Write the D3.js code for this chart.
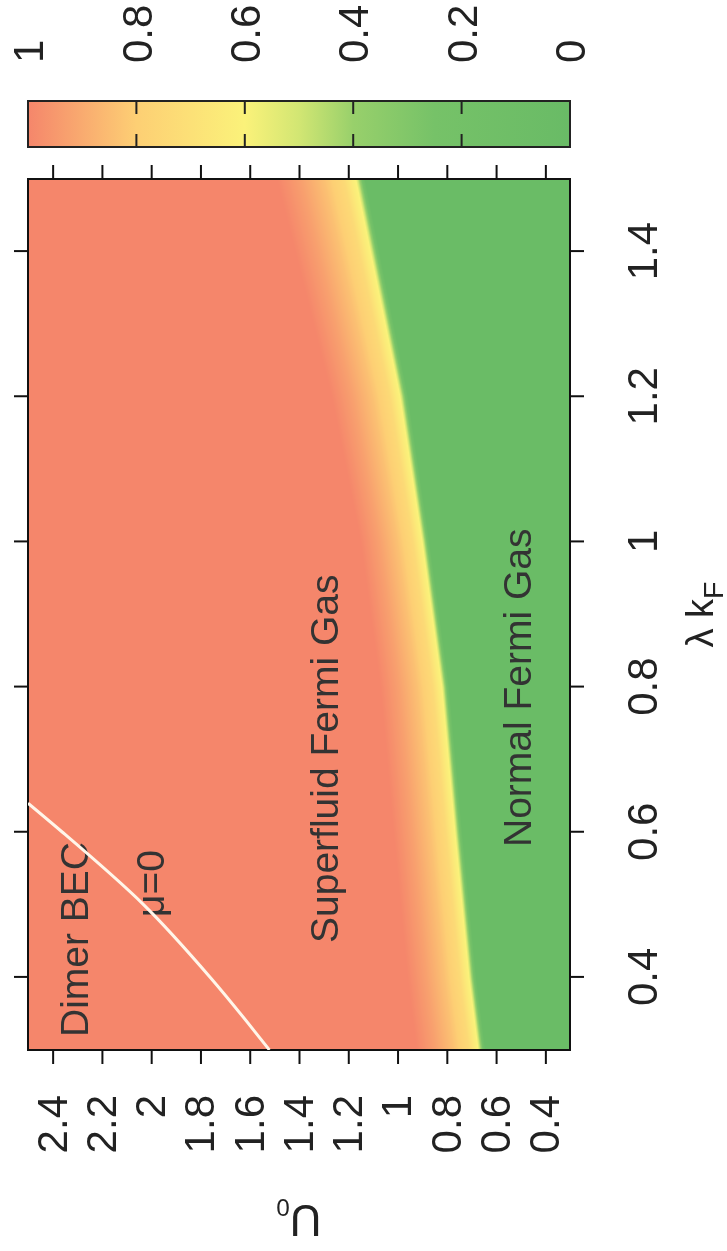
<!DOCTYPE html>
<html>
<head>
<meta charset="utf-8">
<script src="https://cdn.jsdelivr.net/npm/d3@7"></script>
<style>
  body { margin: 0; background: #fff; }
  #wrap { position: relative; width: 727px; height: 1251px; overflow: hidden; }
  #wrap canvas, #wrap svg { position: absolute; left: 0; top: 0; }
  text { font-family: "Liberation Sans", Arial, sans-serif; }
</style>
</head>
<body>
<div id="wrap"></div>
<script>
// tick values
const lambdaTicks = [0.4, 0.6, 0.8, 1, 1.2, 1.4];
const u0Ticks = [0.4, 0.6, 0.8, 1, 1.2, 1.4, 1.6, 1.8, 2, 2.2, 2.4];
const barTicks = [0, 0.2, 0.4, 0.6, 0.8, 1];

// superfluid / normal boundary (edge of the green region)
const boundaryLambda = [0.3, 0.4, 0.6, 0.8, 1.0, 1.2, 1.4, 1.5];
const boundaryU0 = [0.673, 0.71, 0.767, 0.82, 0.90, 0.99, 1.11, 1.17];

// how far (in U0) the yellow fades into red above the boundary
const fadeLambda = [0.3, 1.0, 1.5];
const fadeU0 = [0.25, 0.25, 0.32];

// value across the boundary, offset given in fade widths
const profileOffset = [-0.12, -0.05, 0, 0.05, 0.15, 0.4, 0.7, 1];
const profileValue = [0.02, 0.4, 0.6, 0.64, 0.74, 0.84, 0.93, 1];

// mu = 0 line
const muLambda = [0.3, 0.4, 0.5, 0.6, 0.64];
const muU0 = [1.52, 1.76, 2.03, 2.36, 2.5];

// colour map
const colorStops = [0, 0.25, 0.4, 0.5, 0.6, 0.8, 1];
const colorValues = ["#69bb66", "#76c268", "#98d06b", "#d2e673", "#fbf27a", "#fdcf74", "#f5866b"];

const W = 727, H = 1251;

// the figure is drawn lying on its side: inner x -> screen up, inner y -> screen x
const x = d3.scaleLinear().domain([0.3, 1.5]).range([201, 1072]);
const y = d3.scaleLinear().domain([0.3, 2.5]).range([570, 28]);
const barScale = d3.scaleLinear().domain([0, 1]).range([570, 28]);
const fmt = d => String(+d.toFixed(1));

const wrap = d3.select("#wrap");

// density map on a canvas
const canvas = wrap.append("canvas").attr("width", W).attr("height", H).node();
const ctx = canvas.getContext("2d");
const img = ctx.createImageData(W, H);

const bScale = d3.scaleLinear().domain(boundaryLambda).range(boundaryU0);
const fScale = d3.scaleLinear().domain(fadeLambda).range(fadeU0);
const pScale = d3.scaleLinear().domain(profileOffset).range(profileValue).clamp(true);
const color = d3.scaleLinear().domain(colorStops).range(colorValues);

const lut = d3.range(0, 1001).map(i => d3.rgb(color(i / 1000)));

const sy0 = Math.round(H - x.range()[1]), sy1 = Math.round(H - x.range()[0]);
const sx0 = Math.round(y.range()[1]), sx1 = Math.round(y.range()[0]);
for (let sy = sy0; sy < sy1; sy++) {
    const lam = x.invert(H - sy - 0.5);
    const b = bScale(lam), w = fScale(lam);
    for (let sx = sx0; sx < sx1; sx++) {
        const u = y.invert(sx + 0.5);
        const v = pScale((u - b) / w);
        const c = lut[Math.round(v * 1000)];
        const k = (sy * W + sx) * 4;
        img.data[k] = c.r;
        img.data[k + 1] = c.g;
        img.data[k + 2] = c.b;
        img.data[k + 3] = 255;
    }
}
ctx.putImageData(img, 0, 0);

const svg = wrap.append("svg").attr("width", W).attr("height", H);
const defs = svg.append("defs");

const g = svg.append("g").attr("transform", `translate(0,${H}) rotate(-90)`);

defs.append("clipPath").attr("id", "plotClip")
    .append("rect")
    .attr("x", x.range()[0]).attr("y", y.range()[1])
    .attr("width", x.range()[1] - x.range()[0])
    .attr("height", y.range()[0] - y.range()[1])
    .attr("transform", `translate(0,${H}) rotate(-90)`);

// mu = 0 line
const muLine = d3.line()
    .x(d => x(d[0]))
    .y(d => y(d[1]))
    .curve(d3.curveMonotoneX);

svg.append("g")
    .attr("clip-path", "url(#plotClip)")
    .append("path")
    .attr("transform", `translate(0,${H}) rotate(-90)`)
    .datum(muLambda.map((l, i) => [l, muU0[i]]))
    .attr("fill", "none")
    .attr("stroke", "#fff6ea")
    .attr("stroke-width", 3)
    .attr("d", muLine);

// labels inside the plot
const labels = [
    { t: "Dimer BEC", x: 214, y: 88 },
    { t: "\u03bc=0", x: 334, y: 164 },
    { t: "Superfluid Fermi Gas", x: 308, y: 338 },
    { t: "Normal Fermi Gas", x: 404, y: 531 }
];
g.selectAll(".region")
    .data(labels)
    .enter().append("text")
    .attr("class", "region")
    .attr("x", d => d.x)
    .attr("y", d => d.y)
    .attr("font-size", 39)
    .attr("fill", "#333")
    .text(d => d.t);

// frame
g.append("rect")
    .attr("x", x.range()[0]).attr("y", y.range()[1])
    .attr("width", x.range()[1] - x.range()[0])
    .attr("height", y.range()[0] - y.range()[1])
    .attr("fill", "none")
    .attr("stroke", "#111")
    .attr("stroke-width", 2);

function styleAxis(sel) {
    sel.select(".domain").remove();
    sel.selectAll(".tick line").attr("stroke", "#111").attr("stroke-width", 2);
    sel.selectAll(".tick text").attr("font-size", 42).attr("fill", "#222")
        .attr("font-family", "Liberation Sans, Arial, sans-serif");
}

// lambda kF axis (screen right) with labels
g.append("g")
    .attr("transform", `translate(0,${y.range()[0]})`)
    .call(d3.axisBottom(x).tickValues(lambdaTicks).tickSize(14).tickPadding(43).tickFormat(fmt))
    .call(styleAxis);

g.append("g")
    .attr("transform", `translate(0,${y.range()[1]})`)
    .call(d3.axisTop(x).tickValues(lambdaTicks).tickSize(14).tickFormat(""))
    .call(styleAxis);

// U0 axis (screen bottom) with labels
g.append("g")
    .attr("transform", `translate(${x.range()[0]},0)`)
    .call(d3.axisLeft(y).tickValues(u0Ticks).tickSize(14).tickPadding(31).tickFormat(fmt))
    .call(styleAxis);

g.append("g")
    .attr("transform", `translate(${x.range()[1]},0)`)
    .call(d3.axisRight(y).tickValues(u0Ticks).tickSize(14).tickFormat(""))
    .call(styleAxis);

// axis titles
const lamLabel = g.append("text")
    .attr("x", (x.range()[0] + x.range()[1]) / 2)
    .attr("y", 713)
    .attr("text-anchor", "middle")
    .attr("font-size", 38)
    .attr("fill", "#222");
lamLabel.append("tspan").text("\u03bb k");
lamLabel.append("tspan").attr("font-size", "0.75em").attr("dy", "0.35em").text("F");

const uLabel = g.append("text")
    .attr("transform", `translate(46,${(y.range()[0] + y.range()[1]) / 2}) rotate(-90)`)
    .attr("text-anchor", "middle")
    .attr("font-size", 44)
    .attr("fill", "#222");
uLabel.append("tspan").text("U");
uLabel.append("tspan").attr("font-size", "0.55em").attr("dy", "0.25em").text("0");

// colour bar
const grad = defs.append("linearGradient")
    .attr("id", "barGrad")
    .attr("gradientUnits", "userSpaceOnUse")
    .attr("x1", 0).attr("y1", barScale(0))
    .attr("x2", 0).attr("y2", barScale(1));
grad.selectAll("stop")
    .data(colorStops)
    .enter().append("stop")
    .attr("offset", d => d)
    .attr("stop-color", (d, i) => colorValues[i]);

const barX0 = 1104, barX1 = 1150;
g.append("rect")
    .attr("x", barX0).attr("y", barScale(1))
    .attr("width", barX1 - barX0)
    .attr("height", barScale(0) - barScale(1))
    .attr("fill", "url(#barGrad)")
    .attr("stroke", "#222")
    .attr("stroke-width", 2);

const inner = barTicks.filter(d => d > 0 && d < 1);
g.selectAll(".barTickA")
    .data(inner)
    .enter().append("line")
    .attr("x1", barX0).attr("x2", barX0 + 13)
    .attr("y1", d => barScale(d)).attr("y2", d => barScale(d))
    .attr("stroke", "#222").attr("stroke-width", 2);
g.selectAll(".barTickB")
    .data(inner)
    .enter().append("line")
    .attr("x1", barX1 - 13).attr("x2", barX1)
    .attr("y1", d => barScale(d)).attr("y2", d => barScale(d))
    .attr("stroke", "#222").attr("stroke-width", 2);

g.selectAll(".barLabel")
    .data(barTicks)
    .enter().append("text")
    .attr("x", 1188)
    .attr("y", d => barScale(d))
    .attr("dy", "0.36em")
    .attr("font-size", 42)
    .attr("fill", "#222")
    .text(fmt);
</script>
</body>
</html>
